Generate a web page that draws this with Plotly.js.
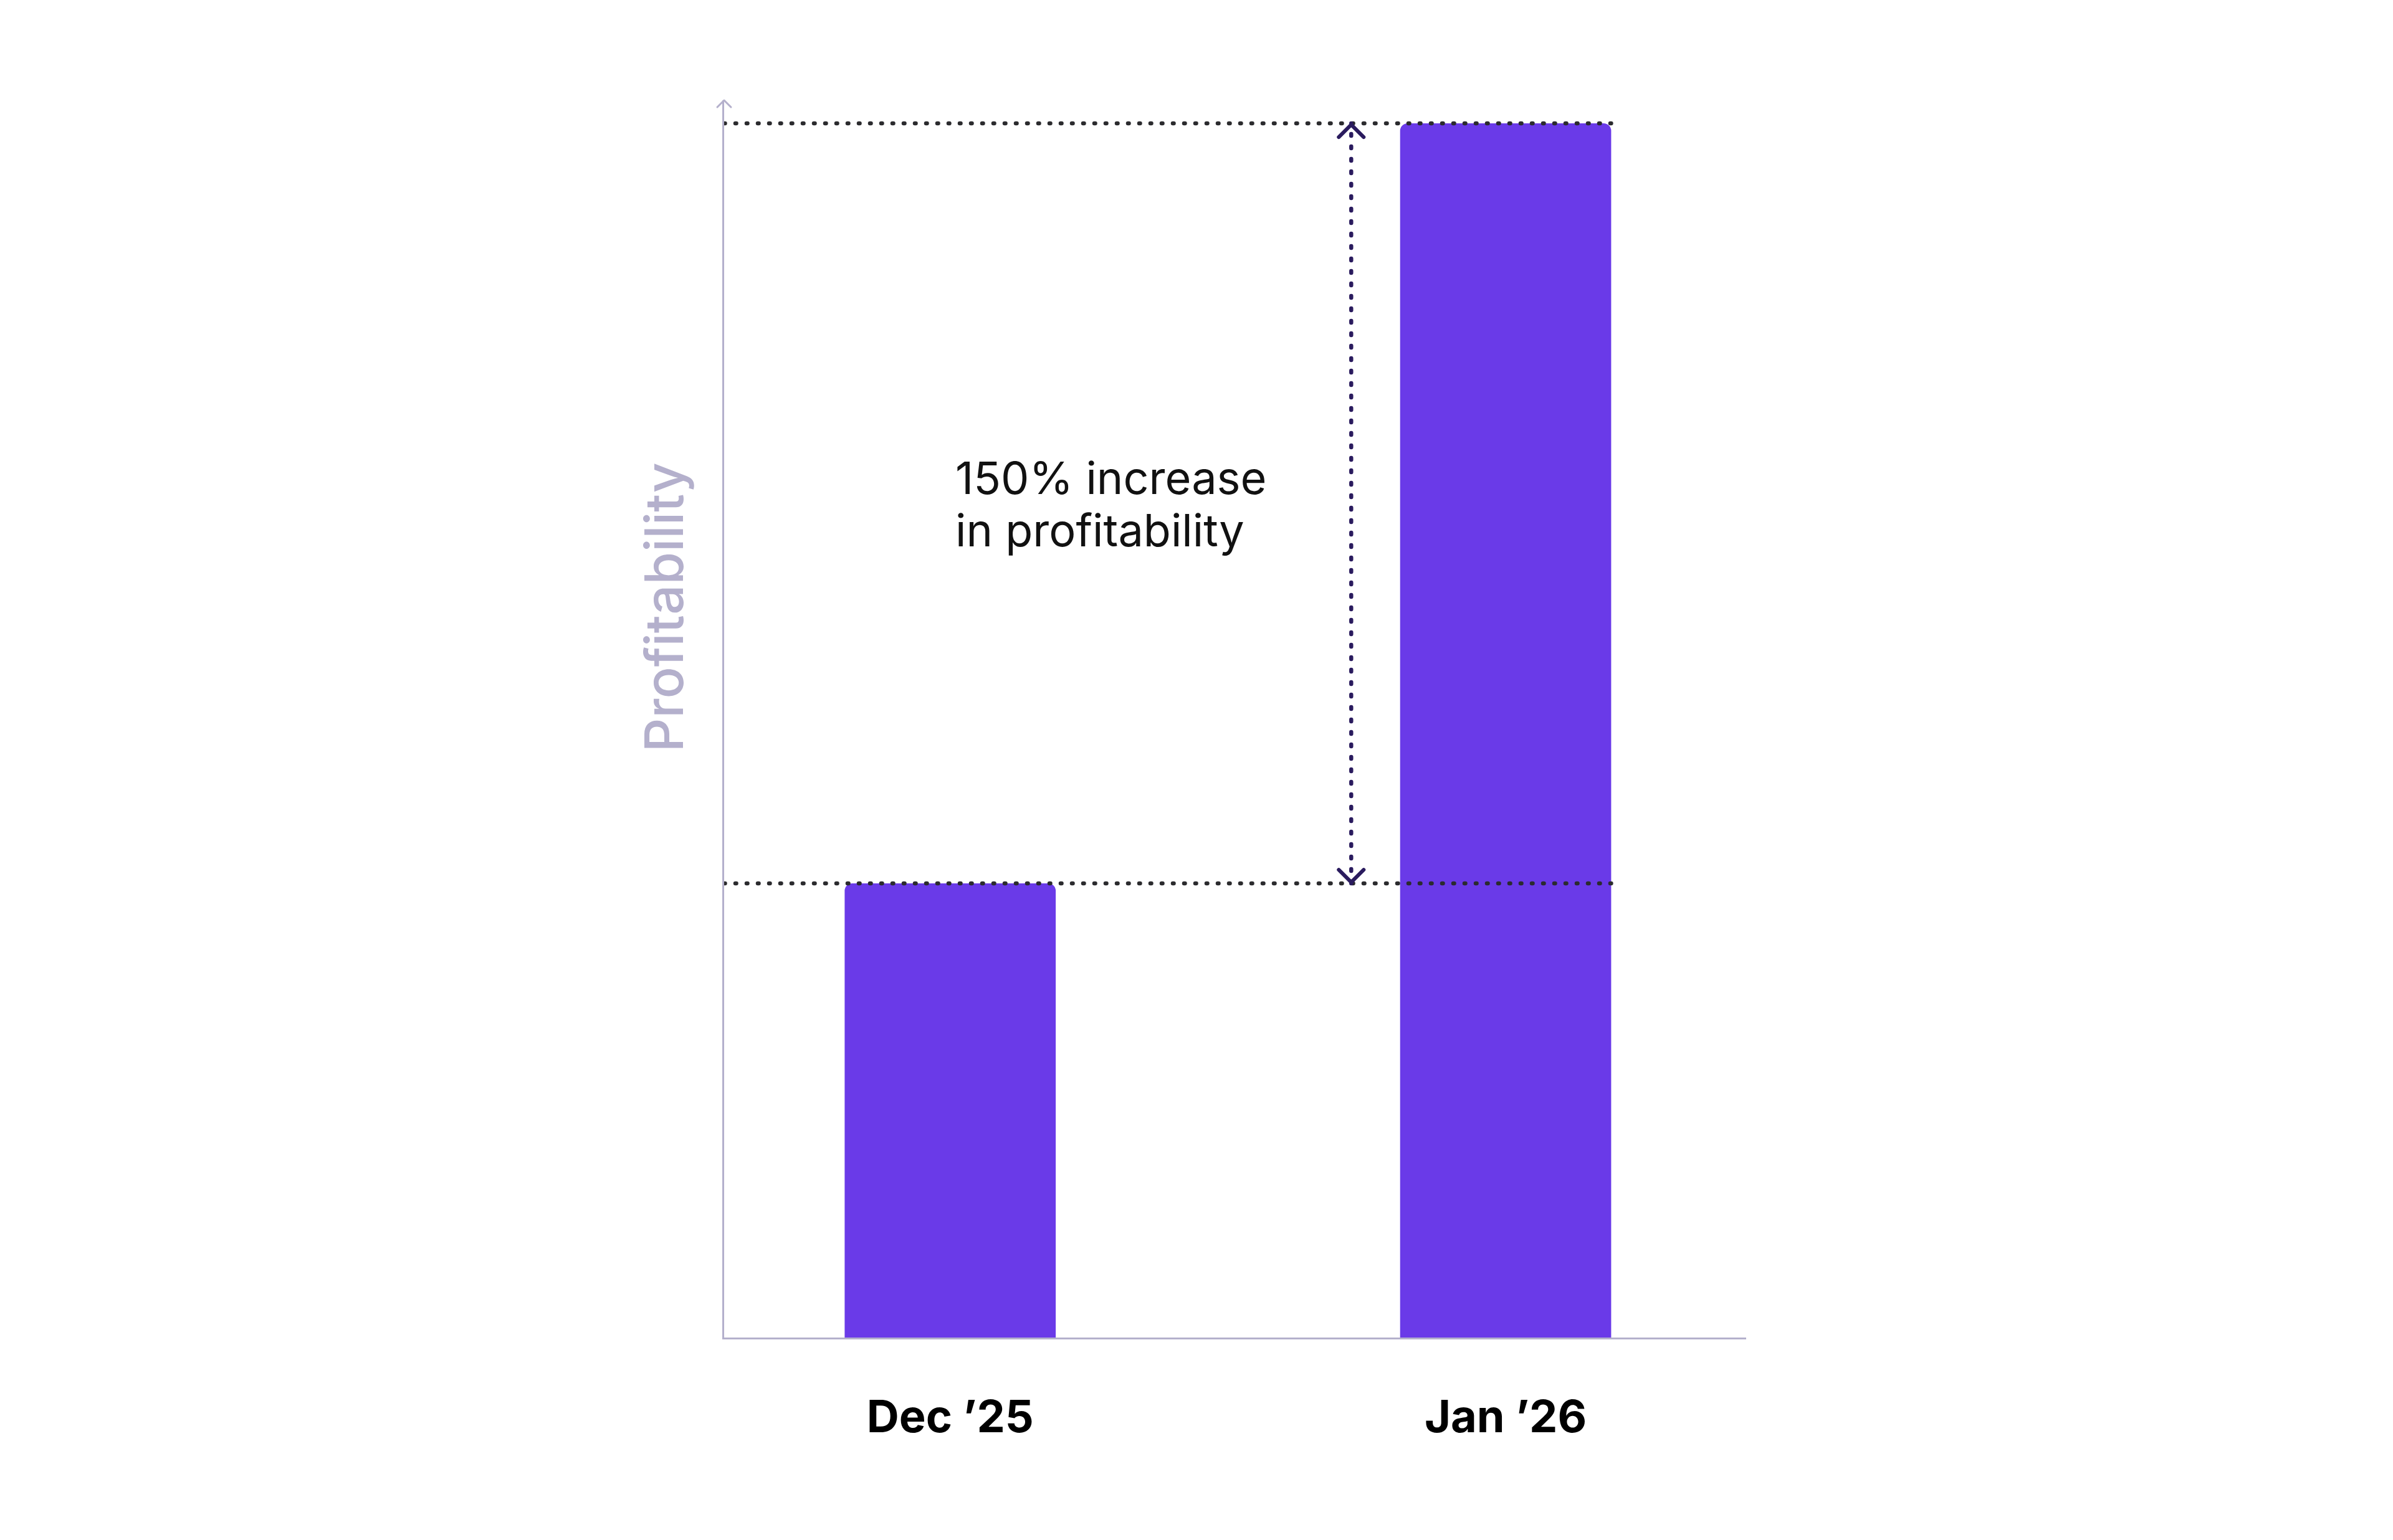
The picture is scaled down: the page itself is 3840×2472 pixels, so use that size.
<!DOCTYPE html>
<html>
<head>
<meta charset="utf-8">
<script src="https://cdn.plot.ly/plotly-3.0.1.min.js"></script>
<style>
  html, body { margin: 0; padding: 0; background: #ffffff; }
  #chart { width: 3840px; height: 2472px; }
  .shapelayer path { stroke-linecap: round; stroke-linejoin: round; }
</style>
</head>
<body>
<div id="chart"></div>
<script>
// ---- data ----
const categories = ["Dec \u201925", "Jan \u201926"];
const profitability = [37.4, 100];
const annotationLines = ["150% increase", "in profitability"];
const yTitle = "Profitability";

// ---- style ----
const barColor = "#6a3ae8";
const axisColor = "#b4b0cc";
const dotColor = "#2b2b2e";
const arrowColor = "#2a1b5e";
const barWidth = 0.38;
const xRange = [-0.407, 1.433];
const yRange = [0, 101.9];
const arrowX = 0.722;

const trace = {
  type: "bar",
  x: [0, 1],
  y: profitability,
  width: barWidth,
  marker: { color: barColor, cornerradius: 12, line: { width: 0 } },
  hoverinfo: "skip"
};

const shapes = [];
// horizontal dotted reference lines at each bar's value
profitability.forEach(v => {
  shapes.push({
    type: "line", xref: "x", yref: "y",
    x0: xRange[0], x1: 1 + barWidth / 2, y0: v, y1: v,
    line: { color: dotColor, width: 6.5, dash: "1.5px,16.5px" },
    layer: "above"
  });
});
// dashed vertical arrow shaft between the two values
shapes.push({
  type: "line", xref: "x", yref: "y",
  x0: arrowX, x1: arrowX, y0: profitability[0], y1: profitability[1],
  line: { color: arrowColor, width: 6.5, dash: "3px,17px" },
  layer: "above"
});
// chevron heads
shapes.push({
  type: "path", xref: "x", yref: "y",
  xsizemode: "pixel", ysizemode: "pixel",
  xanchor: arrowX, yanchor: profitability[1],
  path: "M-20,-22 L0,-2 L20,-22",
  line: { color: arrowColor, width: 6 }
});
shapes.push({
  type: "path", xref: "x", yref: "y",
  xsizemode: "pixel", ysizemode: "pixel",
  xanchor: arrowX, yanchor: profitability[0],
  path: "M-20,22 L0,2 L20,22",
  line: { color: arrowColor, width: 6 }
});
// y-axis arrow head
shapes.push({
  type: "path", xref: "paper", yref: "paper",
  xsizemode: "pixel", ysizemode: "pixel",
  xanchor: 0, yanchor: 1,
  path: "M-11,-11 L0,0 L11,-11",
  line: { color: axisColor, width: 3 }
});

const annotations = [
  {
    text: annotationLines[0], xref: "x", yref: "paper",
    x: 0, y: 0.695, xanchor: "left", yanchor: "middle", xshift: 6,
    showarrow: false, font: { family: "Inter", size: 72, color: "#111111" }
  },
  {
    text: annotationLines[1], xref: "x", yref: "paper",
    x: 0, y: 0.653, xanchor: "left", yanchor: "middle", xshift: 6,
    showarrow: false, font: { family: "Inter", size: 72, color: "#111111" }
  },
  {
    text: yTitle, xref: "paper", yref: "paper",
    x: 0, y: 0.59, xshift: -97, xanchor: "center", yanchor: "middle",
    textangle: -90, showarrow: false,
    font: { family: "Inter", size: 85, color: axisColor, weight: 500 }
  }
];

const layout = {
  width: 3840, height: 2472,
  margin: { l: 1162, r: 1038, t: 161, b: 325, pad: 0 },
  paper_bgcolor: "#ffffff", plot_bgcolor: "#ffffff",
  showlegend: false,
  xaxis: {
    range: xRange, tickmode: "array", tickvals: [0, 1], ticktext: categories,
    showline: true, linecolor: axisColor, linewidth: 3,
    showgrid: false, zeroline: false, ticks: "",
    ticklabelstandoff: 63,
    tickfont: { family: "Inter", size: 72, color: "#000000", weight: 700 },
    fixedrange: true
  },
  yaxis: {
    range: yRange, showline: true, linecolor: axisColor, linewidth: 3,
    showgrid: false, zeroline: false, ticks: "", showticklabels: false,
    fixedrange: true
  },
  shapes: shapes,
  annotations: annotations
};

Plotly.newPlot("chart", [trace], layout, { displayModeBar: false, staticPlot: true }).then(gd => {
  gd.querySelectorAll(".shapelayer path").forEach(p => {
    p.style.strokeLinecap = "round";
    p.style.strokeLinejoin = "round";
  });
});
</script>
</body>
</html>
